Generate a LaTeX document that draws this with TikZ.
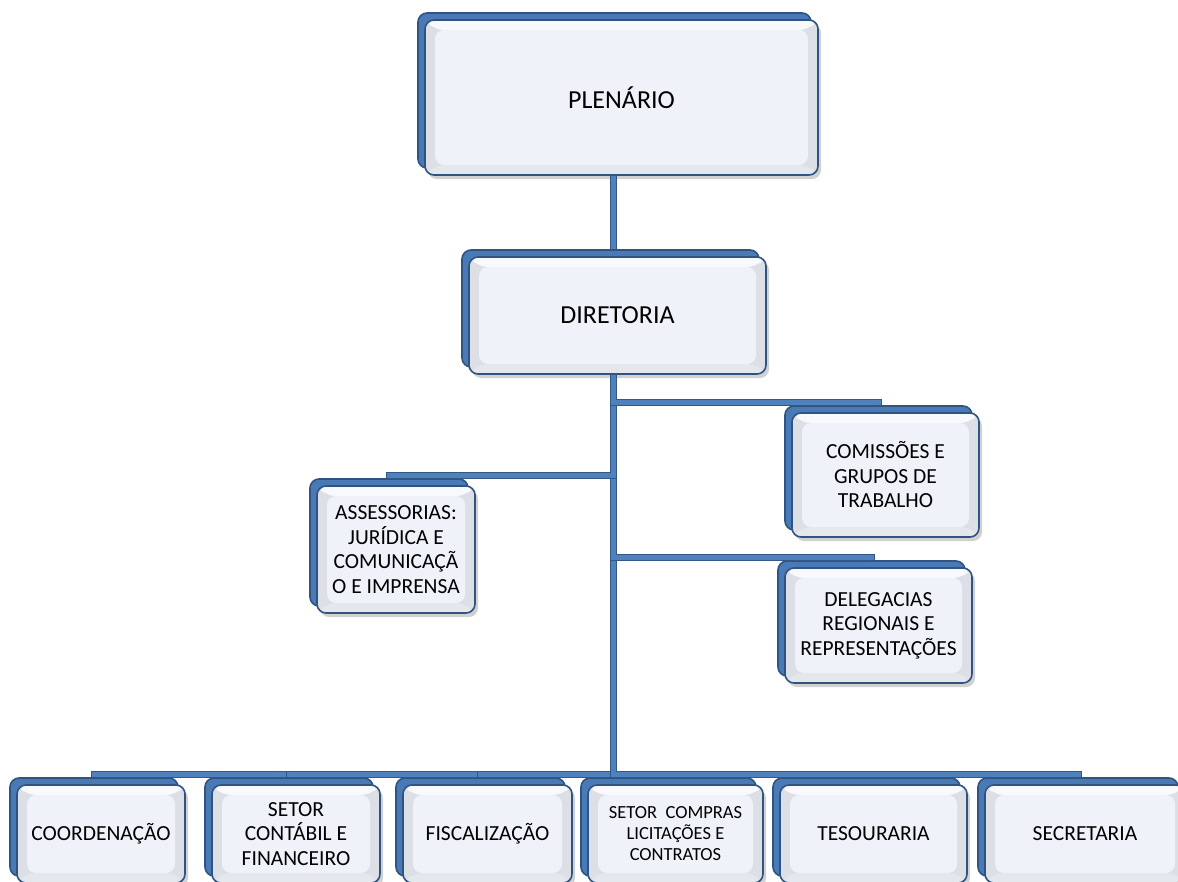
\documentclass[tikz,border=0pt]{standalone}
\usepackage{fontspec}
\setmainfont{Carlito}
\usetikzlibrary{shadows}

\definecolor{linkblue}{RGB}{79,129,189}
\definecolor{linkedge}{RGB}{52,88,133}
\definecolor{backblue}{RGB}{74,122,182}
\definecolor{boxedge}{RGB}{47,84,130}
\definecolor{bevelside}{RGB}{220,224,230}
\definecolor{beveltop}{RGB}{247,249,252}
\definecolor{bevelbottom}{RGB}{228,232,237}
\definecolor{boxface}{RGB}{239,243,249}

\tikzset{
  orgbox/.style={rounded corners=9pt, draw=boxedge, line width=1.6pt, fill=bevelside,
    inner sep=0pt, align=center, font=\fontsize{21.5}{24.5}\selectfont,
    drop shadow={shadow xshift=3pt, shadow yshift=-4pt, opacity=0.3, fill=black!60},
    copy shadow={shadow xshift=-7pt, shadow yshift=7pt, fill=backblue, draw=boxedge, line width=1.6pt},
    path picture={
      \path (path picture bounding box.north west) coordinate (bNW)
            (path picture bounding box.south east) coordinate (bSE);
      \path (bNW) ++(10pt,-10pt) coordinate (iNW)
            (bSE) ++(-10pt,10pt) coordinate (iSE);
      \fill[beveltop] (bNW) -- (bSE |- bNW) -- (iSE |- iNW) -- (iNW) -- cycle;
      \fill[bevelbottom] (bNW |- bSE) -- (bSE) -- (iSE) -- (iNW |- iSE) -- cycle;
      \fill[boxface] (iNW) rectangle (iSE);
    }},
  bigbox/.style={orgbox, font=\fontsize{26}{31}\selectfont},
  link/.style={draw=linkblue, line width=5pt, preaction={draw=linkedge, line width=7pt}}
}

\begin{document}
\begin{tikzpicture}[x=1pt,y=-1pt]
  \useasboundingbox (0,0) rectangle (1178,881);

  % top of the chart
  \node[bigbox, minimum width=393pt, minimum height=155pt] (plenario) at (621.5,97.5) {PLENÁRIO};
  \node[bigbox, minimum width=297pt, minimum height=117pt] (diretoria) at (617.5,315.5) {DIRETORIA};

  % side units
  \node[orgbox, minimum width=187pt, minimum height=124pt] (comissoes) at (885.5,475) {COMISSÕES E\\GRUPOS DE\\TRABALHO};
  \node[orgbox, minimum width=158pt, minimum height=127pt] (assessorias) at (396,549.5) {ASSESSORIAS:\\JURÍDICA E\\COMUNICAÇÃ\\O E IMPRENSA};
  \node[orgbox, minimum width=187pt, minimum height=115pt] (delegacias) at (878.5,625.5) {DELEGACIAS\\REGIONAIS E\\REPRESENTAÇÕES};

  % bottom row, cut by the page edge
  \node[orgbox, minimum width=168pt, minimum height=98pt] (coordenacao) at (101,834) {COORDENAÇÃO};
  \node[orgbox, minimum width=168pt, minimum height=98pt] (contabil) at (296,834) {SETOR\\CONTÁBIL E\\FINANCEIRO};
  \node[orgbox, minimum width=169pt, minimum height=98pt] (fiscalizacao) at (487.5,834) {FISCALIZAÇÃO};
  \node[orgbox, minimum width=175pt, minimum height=98pt, font=\fontsize{18.5}{21}\selectfont] (compras) at (675.5,834) {SETOR~~COMPRAS\\LICITAÇÕES E\\CONTRATOS};
  \node[orgbox, minimum width=187pt, minimum height=98pt] (tesouraria) at (873.5,834) {TESOURARIA};
  \node[orgbox, minimum width=200pt, minimum height=98pt] (secretaria) at (1085,834) {SECRETARIA};

  \draw[link] ([xshift=-8.5pt]plenario.south) -- ([xshift=-4.5pt,yshift=7pt]diretoria.north);
  \coordinate (trunk) at ([xshift=-4.5pt]diretoria.south);
  \foreach \unit in {coordenacao,contabil,fiscalizacao,compras,tesouraria,secretaria,delegacias,assessorias,comissoes}
    \draw[link] (trunk) |- ([xshift=-7pt,yshift=10pt]\unit.north) -- ([xshift=-7pt,yshift=7pt]\unit.north);
\end{tikzpicture}
\end{document}
